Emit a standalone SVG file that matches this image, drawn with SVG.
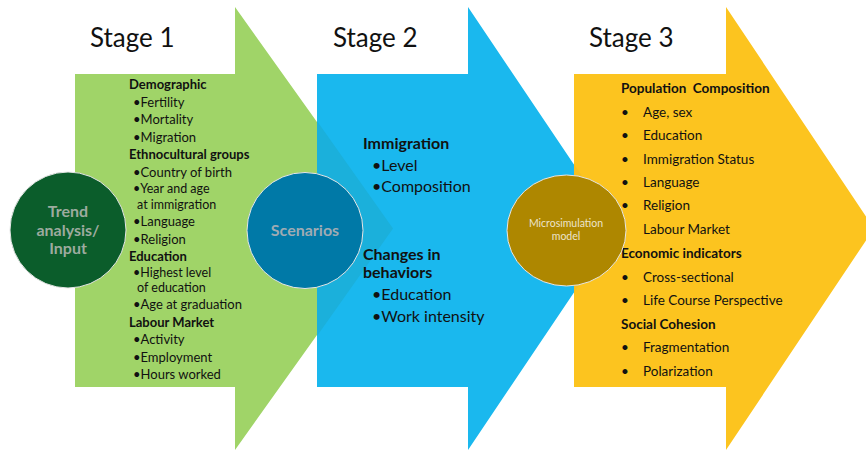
<svg xmlns="http://www.w3.org/2000/svg" width="866" height="451" viewBox="0 0 866 451">
<style>
text{font-family:Lato,"Open Sans","Liberation Sans",sans-serif;fill:#111;}
.title{font-size:26px;fill:#111;}
.s1{font-size:13px;}
.s1t{font-size:12.5px;}
.s1b{font-size:13px;font-weight:bold;}
.s2{font-size:16px;}
.s2b{font-size:16px;font-weight:bold;}
.s3{font-size:13.5px;}
.s3b{font-size:13.5px;font-weight:bold;}
.circ{stroke:#e6e6e6;stroke-width:1;}
</style>
<rect width="866" height="451" fill="#ffffff"/>
<g id="stage1-arrow">
<polygon points="75,74 235,74 235,7 393,228.5 235,450 235,387 75,387" fill="#a0d468"/>
</g>
<g id="stage2-arrow">
<polygon points="317,74 468,74 468,7 617,228.5 468,450 468,387 317,387" fill="#1ab8ee"/>
<polygon points="317,121 393,228.5 317,336" fill="#1bb0db"/>
</g>
<g id="stage3-arrow">
<polygon points="574,74 726,74 726,7 874,228.5 726,450 726,387 574,387" fill="#fcc41f"/>
<polygon points="574,164 617,228.5 574,293" fill="#f6bf1f"/>
</g>
<g id="titles">
<text class="title" x="90" y="47">Stage 1</text>
<text class="title" x="333" y="47">Stage 2</text>
<text class="title" x="589" y="47">Stage 3</text>
</g>
<g id="stage1-text">
<text class="s1b" x="129" y="89">Demographic</text>
<text class="s1" x="133" y="107">•Fertility</text>
<text class="s1" x="133" y="124">•Mortality</text>
<text class="s1" x="133" y="142">•Migration</text>
<text class="s1b" x="129" y="159">Ethnocultural groups</text>
<text class="s1" x="133" y="177">•Country of birth</text>
<text class="s1t" x="133" y="193">•Year and age</text>
<text class="s1t" x="137" y="208.5">at immigration</text>
<text class="s1" x="133" y="226">•Language</text>
<text class="s1" x="133" y="244">•Religion</text>
<text class="s1b" x="129" y="261">Education</text>
<text class="s1t" x="133" y="277">•Highest level</text>
<text class="s1t" x="137" y="292">of education</text>
<text class="s1" x="133" y="309">•Age at graduation</text>
<text class="s1b" x="129" y="327">Labour Market</text>
<text class="s1" x="133" y="344">•Activity</text>
<text class="s1" x="133" y="362">•Employment</text>
<text class="s1" x="133" y="379">•Hours worked</text>
</g>
<g id="stage2-text">
<text class="s2b" x="363" y="149">Immigration</text>
<text class="s2" x="372" y="171">•Level</text>
<text class="s2" x="372" y="192">•Composition</text>
<text class="s2b" x="363" y="260">Changes in</text>
<text class="s2b" x="363" y="278">behaviors</text>
<text class="s2" x="372" y="300">•Education</text>
<text class="s2" x="372" y="322">•Work intensity</text>
</g>
<g id="stage3-text">
<text class="s3b" x="621" y="93" xml:space="preserve">Population  Composition</text>
<text class="s3" x="621" y="117">•</text><text class="s3" x="643" y="117">Age, sex</text>
<text class="s3" x="621" y="140">•</text><text class="s3" x="643" y="140">Education</text>
<text class="s3" x="621" y="164">•</text><text class="s3" x="643" y="164">Immigration Status</text>
<text class="s3" x="621" y="187">•</text><text class="s3" x="643" y="187">Language</text>
<text class="s3" x="621" y="210">•</text><text class="s3" x="643" y="210">Religion</text>
<text class="s3" x="643" y="234">Labour Market</text>
<text class="s3b" x="621" y="258">Economic indicators</text>
<text class="s3" x="621" y="282">•</text><text class="s3" x="643" y="282">Cross-sectional</text>
<text class="s3" x="621" y="305">•</text><text class="s3" x="643" y="305">Life Course Perspective</text>
<text class="s3b" x="621" y="329">Social Cohesion</text>
<text class="s3" x="621" y="352">•</text><text class="s3" x="643" y="352">Fragmentation</text>
<text class="s3" x="621" y="376">•</text><text class="s3" x="643" y="376">Polarization</text>
</g>
<g id="trend-node">
<circle class="circ" cx="68" cy="230" r="58" fill="#0b5d2b"/>
<text x="68" y="217" text-anchor="middle" style="font-size:16px;font-weight:bold;fill:#9dab9f">Trend</text>
<text x="68" y="236" text-anchor="middle" style="font-size:16px;font-weight:bold;fill:#9dab9f">analysis/</text>
<text x="68" y="254" text-anchor="middle" style="font-size:16px;font-weight:bold;fill:#9dab9f">Input</text>
</g>
<g id="scenarios-node">
<circle class="circ" cx="305" cy="230.5" r="58" fill="#0079a7"/>
<text x="305" y="236" text-anchor="middle" style="font-size:16px;font-weight:bold;fill:#9fabb3">Scenarios</text>
</g>
<g id="microsim-node">
<ellipse class="circ" cx="566.5" cy="230.5" rx="59.5" ry="55.5" fill="#ae8700"/>
<text x="566" y="227" text-anchor="middle" style="font-size:10.5px;fill:#ece4cc">Microsimulation</text>
<text x="566" y="240" text-anchor="middle" style="font-size:10.5px;fill:#ece4cc">model</text>
</g>
<g id="connectors"></g>
</svg>
